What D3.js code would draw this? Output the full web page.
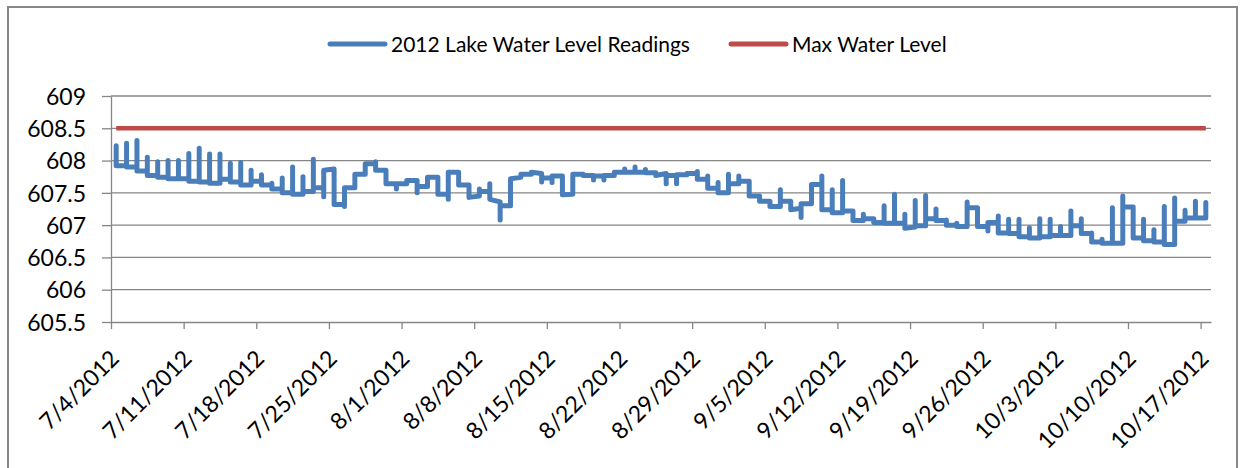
<!DOCTYPE html>
<html>
<head>
<meta charset="utf-8">
<script src="https://cdn.jsdelivr.net/npm/d3@7"></script>
<style>
	body { margin: 0; background: #ffffff; }
	#chart { width: 1248px; height: 468px; }
	.chart text { font-family: Lato, "Open Sans", sans-serif; fill: #000000; }
	.axis path, .axis line { stroke: #868686; }
</style>
</head>
<body>
<div id="chart"></div>
<script>
// first day of readings, each entry of dayReadings is one day (readings in order taken)
const startDate = '7/4/2012';
const dayReadings = [
	[608.23, 607.92], [607.92, 608.27, 607.90], [607.90, 608.31, 607.84], [607.84, 608.05, 607.77],
	[607.77, 607.98, 607.74], [607.74, 608.00, 607.72], [607.72, 608.00, 607.72], [607.72, 608.11, 607.68],
	[607.68, 608.19, 607.67], [607.67, 608.10, 607.65], [607.65, 608.10, 607.71], [607.71, 607.96, 607.67],
	[607.67, 607.97, 607.62], [607.62, 607.85, 607.68], [607.68, 607.78, 607.62], [607.62, 607.65, 607.56],
	[607.56, 607.73, 607.50], [607.50, 607.90, 607.48], [607.48, 607.75, 607.52], [607.52, 608.02, 607.58],
	[607.58, 607.44, 607.85], [607.87, 607.32], [607.32, 607.29, 607.58], [607.58, 607.79],
	[607.79, 607.95], [607.95, 607.98, 607.85], [607.85, 607.64], [607.64, 607.56, 607.64],
	[607.64, 607.69], [607.69, 607.50, 607.60], [607.60, 607.74], [607.74, 607.48],
	[607.48, 607.40, 607.82], [607.82, 607.62], [607.62, 607.43], [607.45, 607.56, 607.52],
	[607.52, 607.64, 607.40], [607.36, 607.08, 607.30], [607.30, 607.72], [607.74, 607.79],
	[607.79, 607.82], [607.80, 607.67, 607.73], [607.73, 607.66, 607.76], [607.76, 607.47],
	[607.48, 607.50, 607.79], [607.79, 607.77], [607.77, 607.70, 607.76], [607.76, 607.70, 607.77],
	[607.77, 607.82], [607.82, 607.87, 607.82], [607.82, 607.90, 607.82], [607.82, 607.86, 607.81],
	[607.81, 607.77], [607.80, 607.64, 607.77], [607.77, 607.64, 607.78], [607.78, 607.80],
	[607.80, 607.83, 607.71], [607.71, 607.76, 607.57], [607.57, 607.66, 607.50], [607.50, 607.79, 607.64],
	[607.64, 607.76, 607.68], [607.68, 607.58, 607.45], [607.45, 607.37], [607.37, 607.29],
	[607.29, 607.55, 607.37], [607.37, 607.24], [607.26, 607.12, 607.33], [607.33, 607.63],
	[607.63, 607.76, 607.24], [607.24, 607.55, 607.19], [607.19, 607.69, 607.22], [607.22, 607.07],
	[607.07, 607.17, 607.10], [607.10, 607.04], [607.04, 607.30, 607.03], [607.03, 607.48, 607.03],
	[607.03, 607.17, 606.95], [606.97, 607.38, 606.99], [606.99, 607.46, 607.10], [607.10, 607.25, 607.07],
	[607.07, 607.08, 607.00], [607.00, 607.03, 606.98], [606.98, 607.36, 607.27], [607.27, 606.98],
	[606.98, 606.91, 607.04], [607.04, 607.14, 606.88], [606.88, 607.09, 606.87], [606.87, 607.09, 606.82],
	[606.82, 606.96, 606.80], [606.80, 607.10, 606.82], [606.82, 607.09, 606.84], [606.84, 606.98, 606.84],
	[606.84, 607.22, 606.99], [606.99, 607.10, 606.87], [606.87, 606.88, 606.74], [606.74, 606.78, 606.72],
	[606.72, 607.27, 606.72], [606.72, 607.45, 607.28], [607.28, 606.80], [606.80, 607.09, 606.76],
	[606.76, 606.93, 606.74], [606.74, 607.29, 606.70], [606.70, 607.42, 607.06], [607.06, 607.23, 607.11],
	[607.11, 607.37, 607.11], [607.11, 607.35, 607.19]
];
const maxWaterLevel = 608.5;
const weekLabels = ['7/4/2012', '7/11/2012', '7/18/2012', '7/25/2012', '8/1/2012', '8/8/2012', '8/15/2012',
	'8/22/2012', '8/29/2012', '9/5/2012', '9/12/2012', '9/19/2012', '9/26/2012', '10/3/2012', '10/10/2012', '10/17/2012'];
const yTicks = [605.5, 606, 606.5, 607, 607.5, 608, 608.5, 609];
const seriesNames = ['2012 Lake Water Level Readings', 'Max Water Level'];
const seriesColors = ['#4a7ebb', '#be4b48'];

class levelChart {
	constructor(opts) {
		this.element = opts.element;
		this.width = opts.width;
		this.height = opts.height;
		this.margins = opts.margins;
		this.draw();
	}

	draw() {
		const m = this.margins;
		const parseDate = d3.timeParse('%m/%d/%Y');
		const start = parseDate(startDate);

		//one point per reading, placed at the middle of its day (excel date axis)
		const points = [];
		dayReadings.forEach(function(day, i) {
			const mid = d3.timeHour.offset(d3.timeDay.offset(start, i), 12);
			day.forEach(v => points.push({ date: mid, level: v }));
		});
		const lastMid = points[points.length - 1].date;
		const maxLine = [{ date: points[0].date, level: maxWaterLevel }, { date: lastMid, level: maxWaterLevel }];

		this.svg = d3.select(this.element).append('svg')
			.attr('class', 'chart')
			.attr('width', this.width)
			.attr('height', this.height);

		//chart frame
		this.svg.append('rect')
			.attr('x', 8).attr('y', 7)
			.attr('width', 1229).attr('height', 470)
			.attr('fill', 'none')
			.attr('stroke', '#888888')
			.attr('stroke-width', 2);

		this.xScale = d3.scaleTime()
			.domain([start, d3.timeDay.offset(start, dayReadings.length)])
			.range([m.left, this.width - m.right]);

		this.yScale = d3.scaleLinear()
			.domain([yTicks[0], yTicks[yTicks.length - 1]])
			.range([this.height - m.bottom, m.top]);

		//gridlines
		this.svg.append('g')
			.attr('class', 'grid')
			.selectAll('line')
			.data(yTicks.slice(1))
			.join('line')
			.attr('x1', m.left).attr('x2', this.width - m.right)
			.attr('y1', d => this.yScale(d)).attr('y2', d => this.yScale(d))
			.attr('stroke', '#868686')
			.attr('stroke-width', 1.3);

		const yAxis = this.svg.append('g')
			.attr('class', 'y axis')
			.attr('transform', 'translate(' + m.left + ',0)')
			.call(d3.axisLeft(this.yScale)
				.tickValues(yTicks)
				.tickFormat(d => String(d))
				.tickSize(9)
				.tickPadding(16)
				.tickSizeOuter(0));
		yAxis.selectAll('path, line').attr('stroke-width', 1.3);
		yAxis.selectAll('text')
			.style('font-size', '23px')
			.attr('dy', '0.36em');

		const xAxis = this.svg.append('g')
			.attr('class', 'x axis')
			.attr('transform', 'translate(0,' + (this.height - m.bottom) + ')')
			.call(d3.axisBottom(this.xScale)
				.tickValues(weekLabels.map(parseDate))
				.tickFormat(d3.timeFormat('%-m/%-d/%Y'))
				.tickSize(7)
				.tickSizeOuter(0));
		xAxis.selectAll('path, line').attr('stroke-width', 1.3);
		xAxis.selectAll('text')
			.style('font-size', '23px')
			.attr('text-anchor', 'end')
			.attr('dy', 0)
			.attr('y', 0)
			.attr('transform', 'translate(9,38) rotate(-45)');

		const valueLine = d3.line()
			.x(d => this.xScale(d.date))
			.y(d => this.yScale(d.level));

		this.svg.append('path')
			.datum(maxLine)
			.attr('class', 'max-line')
			.attr('fill', 'none')
			.attr('stroke', seriesColors[1])
			.attr('stroke-width', 4.5)
			.attr('d', valueLine);

		this.svg.append('path')
			.datum(points)
			.attr('class', 'level-line')
			.attr('fill', 'none')
			.attr('stroke', seriesColors[0])
			.attr('stroke-width', 5)
			.attr('stroke-linejoin', 'round')
			.attr('stroke-linecap', 'round')
			.attr('d', valueLine);

		//legend
		const legendX = [330, 731];
		const legend = this.svg.append('g').attr('class', 'legend')
			.selectAll('g')
			.data(seriesNames)
			.join('g')
			.attr('transform', (d, i) => 'translate(' + legendX[i] + ',44)');
		legend.append('line')
			.attr('x1', 0).attr('x2', 55)
			.attr('stroke', (d, i) => seriesColors[i])
			.attr('stroke-width', 5)
			.attr('stroke-linecap', 'round');
		legend.append('text')
			.attr('x', 61)
			.attr('dy', '0.36em')
			.style('font-size', '21px')
			.text(d => d);
	}
}

new levelChart({
	element: document.getElementById('chart'),
	width: 1248,
	height: 468,
	margins: { top: 96, right: 37, bottom: 146, left: 111 }
});
</script>
</body>
</html>
